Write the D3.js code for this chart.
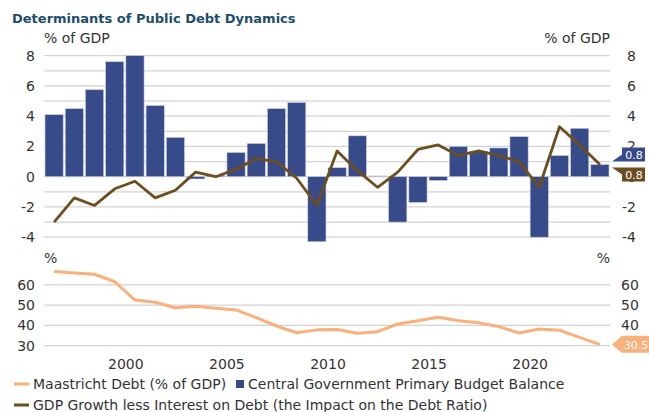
<!DOCTYPE html>
<html>
<head>
  <meta charset="utf-8">
  <title>Determinants of Public Debt Dynamics</title>
  <script src="https://cdnjs.cloudflare.com/ajax/libs/d3/7.8.5/d3.min.js"></script>
  <style>
    body { margin: 0; background: #fff; }
    svg { font-family: "DejaVu Sans", sans-serif; }
    .grid line { stroke: #d3d3d3; stroke-width: 1.3px; }
    .tick-label { font-size: 14px; fill: #333; }
  </style>
</head>
<body>
<script>
  const width = 649;
  const height = 412;

  // data
  const years = d3.range(1996, 2024);
  const balance = [4.1, 4.5, 5.75, 7.6, 8.0, 4.7, 2.6, -0.15, 0.1, 1.6, 2.2, 4.5, 4.9, -4.3,
                   0.6, 2.7, 0.05, -3.0, -1.7, -0.25, 2.0, 1.65, 1.9, 2.65, -4.0, 1.4, 3.2, 0.8];
  const growth = [-3.0, -1.4, -1.9, -0.8, -0.3, -1.4, -0.9, 0.3, 0.0, 0.5, 1.2, 1.0, -0.1, -1.9,
                  1.7, 0.4, -0.7, 0.3, 1.8, 2.1, 1.4, 1.7, 1.4, 1.0, -0.7, 3.3, 2.1, 0.8];
  const debt = [66.5, 65.8, 65.2, 61.5, 52.5, 51.4, 48.7, 49.4, 48.4, 47.6, 43.8, 39.7, 36.4, 37.8,
                38.0, 36.1, 36.9, 40.7, 42.3, 44.0, 42.3, 41.3, 39.4, 36.3, 38.2, 37.6, 34.1, 30.5];
  const topTicks = [-4, -2, 0, 2, 4, 6, 8];
  const bottomTicks = [30, 40, 50, 60];
  const yearTicks = [2000, 2005, 2010, 2015, 2020];

  const colBar = "#374b8b";
  const colGrowth = "#6e4e1f";
  const colDebt = "#f9b07a";

  const svg = d3.select("body")
    .append("svg")
    .attr("width", width)
    .attr("height", height);

  const left = 44, right = 610;

  const x = d3.scaleBand()
    .domain(years)
    .range([left, right])
    .paddingInner(0.1)
    .paddingOuter(0.05);
  const step = x.step();
  const xc = d => x(d) + x.bandwidth() / 2;
  const xStart = d => x(d) - step * 0.05;

  const yTop = d3.scaleLinear().domain([-4, 8]).range([237.2, 55.7]);
  const yBot = d3.scaleLinear().domain([30, 70]).range([345.7, 264.5]);

  // title
  svg.append("text")
    .attr("x", 12).attr("y", 23)
    .style("font-size", "13px").style("font-weight", "bold")
    .style("fill", "#1d4d6c")
    .text("Determinants of Public Debt Dynamics");

  // grid, top panel
  svg.append("g").attr("class", "grid")
    .selectAll("line")
    .data(d3.range(-4, 9))
    .join("line")
    .attr("x1", left).attr("x2", right)
    .attr("y1", d => yTop(d)).attr("y2", d => yTop(d));

  // grid, bottom panel
  svg.append("g").attr("class", "grid")
    .selectAll("line")
    .data(bottomTicks)
    .join("line")
    .attr("x1", left).attr("x2", right)
    .attr("y1", d => yBot(d)).attr("y2", d => yBot(d));

  // axis labels top
  svg.append("g").selectAll("text")
    .data(topTicks).join("text")
    .attr("class", "tick-label")
    .attr("x", 35).attr("y", d => yTop(d)).attr("dy", "0.36em")
    .attr("text-anchor", "end")
    .text(d => d);
  svg.append("g").selectAll("text")
    .data(topTicks).join("text")
    .attr("class", "tick-label")
    .attr("x", 636).attr("y", d => yTop(d)).attr("dy", "0.36em")
    .attr("text-anchor", "end")
    .text(d => d);

  // axis labels bottom
  svg.append("g").selectAll("text")
    .data(bottomTicks).join("text")
    .attr("class", "tick-label")
    .attr("x", 35).attr("y", d => yBot(d)).attr("dy", "0.36em")
    .attr("text-anchor", "end")
    .text(d => d);
  svg.append("g").selectAll("text")
    .data(bottomTicks).join("text")
    .attr("class", "tick-label")
    .attr("x", 621).attr("y", d => yBot(d)).attr("dy", "0.36em")
    .text(d => d);

  // units
  svg.append("text").attr("class", "tick-label").attr("x", 44).attr("y", 43).text("% of GDP");
  svg.append("text").attr("class", "tick-label").attr("x", 610).attr("y", 43)
    .attr("text-anchor", "end").text("% of GDP");
  svg.append("text").attr("class", "tick-label").attr("x", 44).attr("y", 263).text("%");
  svg.append("text").attr("class", "tick-label").attr("x", 610).attr("y", 263)
    .attr("text-anchor", "end").text("%");

  // year labels
  svg.append("g").selectAll("text")
    .data(yearTicks).join("text")
    .attr("class", "tick-label")
    .attr("x", d => xStart(d) + 1).attr("y", 369)
    .attr("text-anchor", "middle")
    .text(d => d);

  // bars
  svg.append("g").selectAll("rect")
    .data(years.map((yr, i) => ({yr, v: balance[i]})))
    .join("rect")
    .attr("x", d => x(d.yr))
    .attr("width", x.bandwidth())
    .attr("y", d => yTop(Math.max(0, d.v)))
    .attr("height", d => Math.abs(yTop(d.v) - yTop(0)))
    .attr("fill", colBar)
    .attr("stroke", "#c8cde0")
    .attr("stroke-width", 0.6);

  // growth line
  const lineTop = d3.line().x((d, i) => xc(years[i])).y(d => yTop(d));
  svg.append("path")
    .attr("d", lineTop(growth))
    .attr("fill", "none")
    .attr("stroke", colGrowth)
    .attr("stroke-width", 2.8)
    .attr("stroke-linejoin", "round");

  // debt line
  const lineBot = d3.line().x((d, i) => xc(years[i])).y(d => yBot(d));
  svg.append("path")
    .attr("d", lineBot(debt))
    .attr("fill", "none")
    .attr("stroke", colDebt)
    .attr("stroke-width", 3)
    .attr("stroke-linejoin", "round");

  // end-value flags
  const lastB = balance[balance.length - 1];
  const lastG = growth[growth.length - 1];
  const lastD = debt[debt.length - 1];
  const vb = yTop(lastB);
  svg.append("path")
    .attr("d", `M612,${vb - 3} L622,${vb - 10} L622,${vb - 17} L645,${vb - 17} L645,${vb - 3} Z`)
    .attr("fill", colBar);
  svg.append("text").attr("x", 634).attr("y", vb - 10).attr("dy", "0.36em")
    .attr("text-anchor", "middle").style("font-size", "11px").style("fill", "#fff")
    .text(lastB.toFixed(1));
  const vg = yTop(lastG);
  svg.append("path")
    .attr("d", `M612,${vg + 3} L645,${vg + 3} L645,${vg + 17} L622,${vg + 17} L622,${vg + 10} Z`)
    .attr("fill", colGrowth);
  svg.append("text").attr("x", 634).attr("y", vg + 10).attr("dy", "0.36em")
    .attr("text-anchor", "middle").style("font-size", "11px").style("fill", "#fff")
    .text(lastG.toFixed(1));
  const vd = yBot(lastD);
  svg.append("path")
    .attr("d", `M612,${vd} L622,${vd - 9} L649,${vd - 9} L649,${vd + 8} L622,${vd + 8} Z`)
    .attr("fill", colDebt);
  svg.append("text").attr("x", 636).attr("y", vd).attr("dy", "0.36em")
    .attr("text-anchor", "middle").style("font-size", "11px").style("fill", "#fff")
    .text(lastD.toFixed(1));

  // legend
  const leg = svg.append("g").style("font-size", "14px").style("fill", "#333");
  leg.append("line").attr("x1", 14).attr("x2", 29).attr("y1", 384).attr("y2", 384)
    .attr("stroke", colDebt).attr("stroke-width", 3);
  leg.append("text").attr("x", 33).attr("y", 389).text("Maastricht Debt (% of GDP)");
  leg.append("rect").attr("x", 236).attr("y", 380).attr("width", 8).attr("height", 8)
    .attr("fill", colBar);
  leg.append("text").attr("x", 248).attr("y", 389).text("Central Government Primary Budget Balance");
  leg.append("line").attr("x1", 14).attr("x2", 29).attr("y1", 405).attr("y2", 405)
    .attr("stroke", colGrowth).attr("stroke-width", 3);
  leg.append("text").attr("x", 33).attr("y", 409.5)
    .text("GDP Growth less Interest on Debt (the Impact on the Debt Ratio)");
</script>
</body>
</html>
